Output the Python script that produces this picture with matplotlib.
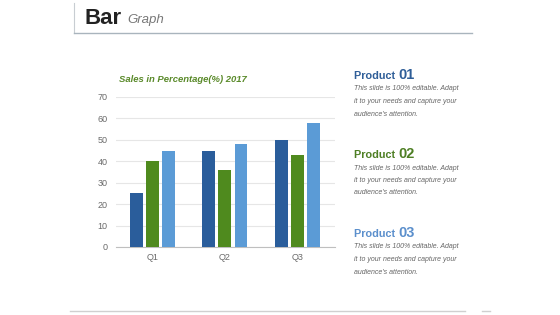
import matplotlib.pyplot as plt
from matplotlib.lines import Line2D
import numpy as np

categories = ["Q1", "Q2", "Q3"]
product1 = [25, 45, 50]
product2 = [40, 36, 43]
product3 = [45, 48, 58]
yticks = [0, 10, 20, 30, 40, 50, 60, 70]

c1, c2, c3 = "#2a5d9b", "#4f8a1e", "#5b9bd6"

W, H = 560, 315
fig = plt.figure(figsize=(5.6, 3.15), dpi=100)
fig.patch.set_facecolor("white")

def fx(px):
    return px / W

def fy(py):
    return 1 - py / H

# header frame
fig.add_artist(Line2D([fx(74), fx(74)], [fy(3), fy(33)], color="#c8cdd2", lw=0.8))
fig.add_artist(Line2D([fx(74), fx(472)], [fy(33), fy(33)], color="#a9b4bd", lw=1.0))
fig.text(fx(84), fy(18), "Bar", fontsize=16, fontweight="bold", color="#222222",
         va="center", ha="left", family="Liberation Sans")
fig.text(fx(127), fy(19.5), "Graph", fontsize=9.5, style="italic", color="#777777",
         va="center", ha="left", family="Liberation Sans")

# bottom line
fig.add_artist(Line2D([fx(70), fx(465)], [fy(311), fy(311)], color="#d0d0d0", lw=1.0))
fig.add_artist(Line2D([fx(482), fx(490)], [fy(311), fy(311)], color="#d0d0d0", lw=1.0))

# chart
ax = fig.add_axes([fx(116), fy(247), fx(335) - fx(116), (247 - 97) / H])
x = np.arange(len(categories))
bw = 0.175
off = 0.222
ax.bar(x - off, product1, bw, color=c1, zorder=3)
ax.bar(x, product2, bw, color=c2, zorder=3)
ax.bar(x + off, product3, bw, color=c3, zorder=3)
ax.set_xlim(-0.5, 2.52)
ax.set_ylim(0, 70)
ax.set_yticks(yticks)
ax.set_xticks(x)
ax.set_xticklabels(categories)
ax.grid(axis="y", color="#e6e6e6", lw=0.8, zorder=0)
for s in ["left", "right", "top"]:
    ax.spines[s].set_visible(False)
ax.spines["bottom"].set_color("#bfbfbf")
ax.tick_params(axis="both", length=0, labelsize=6.5, labelcolor="#6a6a6a")
ax.tick_params(axis="y", pad=6)
ax.tick_params(axis="x", pad=4)
for lab in ax.get_xticklabels() + ax.get_yticklabels():
    lab.set_family("Liberation Sans")

fig.text(fx(119), fy(79), "Sales in Percentage(%) 2017", fontsize=6.8, style="italic",
         fontweight="bold", color="#5a8a2a", va="center", ha="left", family="Liberation Sans")

# product descriptions
prod_colors = ["#2f5e98", "#4e7f24", "#5b8fcc"]
nums = ["01", "02", "03"]
tops = [76, 155, 234]
desc = ["This slide is 100% editable. Adapt",
        "it to your needs and capture your",
        "audience's attention."]
for col, n, t in zip(prod_colors, nums, tops):
    tx = fig.text(fx(354), fy(t), "Product ", fontsize=7.8, fontweight="bold", color=col,
                  va="center", ha="left", family="Liberation Sans")
    fig.canvas.draw()
    bb = tx.get_window_extent()
    fig.text(bb.x1 / W, fy(t - 1), n, fontsize=10.5, fontweight="bold", color=col,
             va="center", ha="left", family="Liberation Sans")
    for i, line in enumerate(desc):
        fig.text(fx(354), fy(t + 13 + i * 12.5), line, fontsize=5, style="italic",
                 color="#666666", va="center", ha="left", family="Liberation Sans")

fig.savefig("out.png", dpi=100)
